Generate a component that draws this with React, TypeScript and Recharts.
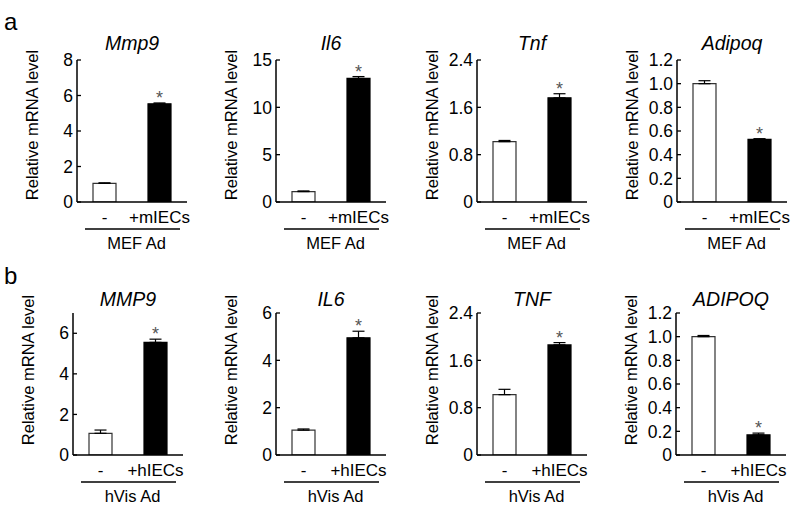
import React from 'react';
import { BarChart, Bar, XAxis, YAxis, ErrorBar, LabelList, Cell } from 'recharts';

// ---- categories / labels ----
const mouseConditions = ['-', '+mIECs'];
const humanConditions = ['-', '+hIECs'];
const mouseGroup = 'MEF Ad';
const humanGroup = 'hVis Ad';
const significance = ['', '*'];
const mouseGenes = ['Mmp9', 'Il6', 'Tnf', 'Adipoq'];
const humanGenes = ['MMP9', 'IL6', 'TNF', 'ADIPOQ'];
const yTitle = 'Relative mRNA level';

// ---- values (mean) and error (SE, upward) ----
const mouseMmp9 = [1.05, 5.53];
const mouseMmp9Err = [0.03, 0.05];
const mouseIl6 = [1.1, 13.05];
const mouseIl6Err = [0.07, 0.2];
const mouseTnf = [1.02, 1.76];
const mouseTnfErr = [0.02, 0.07];
const mouseAdipoq = [1.0, 0.53];
const mouseAdipoqErr = [0.025, 0.005];

const humanMmp9 = [1.07, 5.55];
const humanMmp9Err = [0.16, 0.16];
const humanIl6 = [1.05, 4.95];
const humanIl6Err = [0.05, 0.28];
const humanTnf = [1.02, 1.86];
const humanTnfErr = [0.09, 0.04];
const humanAdipoq = [1.0, 0.17];
const humanAdipoqErr = [0.01, 0.015];

// ---- tick values ----
const ticksTo8 = [0, 2, 4, 6, 8];
const ticksTo15 = [0, 5, 10, 15];
const ticksTo24 = [0, 0.8, 1.6, 2.4];
const ticksTo12 = [0, 0.2, 0.4, 0.6, 0.8, 1.0, 1.2];
const ticksTo6 = [0, 2, 4, 6];

const FONT = '"Liberation Sans", Arial, Helvetica, sans-serif';
const YAXIS_W = 72;
const CHART_W = 194;

type PanelProps = {
  axisX: number;
  top: number;
  marginTop: number;
  height: number;
  marginBottom: number;
  titleTop: number;
  labelShift: number;
  title: string;
  cats: string[];
  values: number[];
  errs: number[];
  domain: number[];
  ticks: number[];
  decimals: number;
  group: string;
};

function Panel(p: PanelProps) {
  const data = p.cats.map((c, i) => ({
    cat: c,
    value: p.values[i],
    err: [0, p.errs[i]],
    sig: significance[i],
  }));
  const left = p.axisX - YAXIS_W;

  const fmt = (v: number) => (v === 0 ? '0' : p.decimals ? v.toFixed(p.decimals) : String(v));

  const renderAsterisk = (props: any) => {
    const vb = props.viewBox || props;
    const idx = data.findIndex((d) => d.sig === props.value && d.sig !== '');
    if (!props.value || idx < 0) return null;
    const d = data[idx];
    const h = vb.height;
    const y = vb.y;
    const x = vb.x + vb.width / 2;
    const pxPerUnit = h / d.value;
    const errTop = y - p.errs[idx] * pxPerUnit;
    const cy = errTop - 9.5;
    return (
      <text x={x} y={cy + 10.5} textAnchor="middle" fontSize={18} fill="#555" fontFamily={FONT}>
        {props.value}
      </text>
    );
  };

  const groupLabel = (props: any) => {
    const vb = props.viewBox;
    const ax = vb.x;
    const ay = vb.y;
    const x1 = ax + 8;
    const x2 = ax + 103;
    return (
      <g>
        <line x1={x1} x2={x2} y1={ay + 27} y2={ay + 27} stroke="#000" strokeWidth={1.4} />
        <text x={(x1 + x2) / 2 + 4} y={ay + 47} textAnchor="middle" fontSize={16.5} fill="#000" fontFamily={FONT}>
          {p.group}
        </text>
      </g>
    );
  };

  const yLabel = (props: any) => {
    const vb = props.viewBox;
    const cx = vb.x + vb.width - 45;
    const cy = vb.y + vb.height / 2 + p.labelShift;
    return (
      <text
        x={cx}
        y={cy}
        transform={`rotate(-90 ${cx} ${cy})`}
        textAnchor="middle"
        dominantBaseline="central"
        fontSize={16.5}
        fill="#000"
        fontFamily={FONT}
      >
        {yTitle}
      </text>
    );
  };

  return (
    <div style={{ position: 'absolute', left, top: p.top, width: CHART_W, height: p.height }}>
      <div
        style={{
          position: 'absolute',
          left: YAXIS_W - 10,
          width: 130,
          top: p.titleTop,
          textAlign: 'center',
          fontStyle: 'italic',
          fontSize: 19.5,
          lineHeight: 1,
          fontFamily: FONT,
          color: '#000',
        }}
      >
        {p.title}
      </div>
      <BarChart
        width={CHART_W}
        height={p.height}
        data={data}
        margin={{ top: p.marginTop, right: CHART_W - YAXIS_W - 110, bottom: p.marginBottom, left: 0 }}
        barCategoryGap={0}
      >
        <XAxis
          dataKey="cat"
          height={50}
          interval={0}
          axisLine={{ stroke: '#000', strokeWidth: 1.5 }}
          tickLine={false}
          tickSize={0}
          tickMargin={9}
          tick={{ fontSize: 17, fill: '#000', fontFamily: FONT }}
          padding={{ left: 0, right: 0 }}
          label={groupLabel}
        />
        <YAxis
          width={YAXIS_W}
          type="number"
          domain={p.domain}
          ticks={p.ticks}
          allowDataOverflow
          interval={0}
          tickFormatter={fmt}
          axisLine={{ stroke: '#000', strokeWidth: 1.5 }}
          tickLine={{ stroke: '#000', strokeWidth: 1.3 }}
          tickSize={-4}
          tickMargin={8}
          tick={{ fontSize: 17.5, fill: '#000', fontFamily: FONT }}
          label={yLabel}
        />
        <Bar dataKey="value" barSize={23} isAnimationActive={false}>
          {data.map((d, i) => (
            <Cell
              key={i}
              fill={i === 0 ? '#ffffff' : '#000000'}
              stroke={i === 0 ? '#333' : '#000'}
              strokeWidth={1.2}
            />
          ))}
          <ErrorBar dataKey="err" width={6} stroke="#000" strokeWidth={1.2} direction="y" isAnimationActive={false} />
          <LabelList dataKey="sig" content={renderAsterisk} />
        </Bar>
      </BarChart>
    </div>
  );
}

const topRow = { top: 0, marginTop: 60, height: 260, marginBottom: 8, titleTop: 34, labelShift: -6 };
const botRow = { top: 254, marginTop: 59, height: 255, marginBottom: 4, titleTop: 36, labelShift: -14 };

export default function App() {
  return (
    <div
      style={{
        position: 'absolute',
        left: 0,
        top: 0,
        width: 794,
        height: 509,
        overflow: 'hidden',
        background: '#fff',
        fontFamily: FONT,
      }}
    >
      <div style={{ position: 'absolute', left: 4, top: 10, fontSize: 24, lineHeight: 1, fontFamily: FONT }}>a</div>
      <div style={{ position: 'absolute', left: 4, top: 264, fontSize: 24, lineHeight: 1, fontFamily: FONT }}>b</div>

      <Panel {...topRow} axisX={77} title={mouseGenes[0]} cats={mouseConditions} values={mouseMmp9} errs={mouseMmp9Err} domain={[0, 8]} ticks={ticksTo8} decimals={0} group={mouseGroup} />
      <Panel {...topRow} axisX={276} title={mouseGenes[1]} cats={mouseConditions} values={mouseIl6} errs={mouseIl6Err} domain={[0, 15]} ticks={ticksTo15} decimals={0} group={mouseGroup} />
      <Panel {...topRow} axisX={477} title={mouseGenes[2]} cats={mouseConditions} values={mouseTnf} errs={mouseTnfErr} domain={[0, 2.4]} ticks={ticksTo24} decimals={1} group={mouseGroup} />
      <Panel {...topRow} axisX={677} title={mouseGenes[3]} cats={mouseConditions} values={mouseAdipoq} errs={mouseAdipoqErr} domain={[0, 1.2]} ticks={ticksTo12} decimals={1} group={mouseGroup} />

      <Panel {...botRow} axisX={73} title={humanGenes[0]} cats={humanConditions} values={humanMmp9} errs={humanMmp9Err} domain={[0, 7]} ticks={ticksTo6} decimals={0} group={humanGroup} />
      <Panel {...botRow} axisX={276} title={humanGenes[1]} cats={humanConditions} values={humanIl6} errs={humanIl6Err} domain={[0, 6]} ticks={ticksTo6} decimals={0} group={humanGroup} />
      <Panel {...botRow} axisX={477} title={humanGenes[2]} cats={humanConditions} values={humanTnf} errs={humanTnfErr} domain={[0, 2.4]} ticks={ticksTo24} decimals={1} group={humanGroup} />
      <Panel {...botRow} axisX={676} title={humanGenes[3]} cats={humanConditions} values={humanAdipoq} errs={humanAdipoqErr} domain={[0, 1.2]} ticks={ticksTo12} decimals={1} group={humanGroup} />
    </div>
  );
}
